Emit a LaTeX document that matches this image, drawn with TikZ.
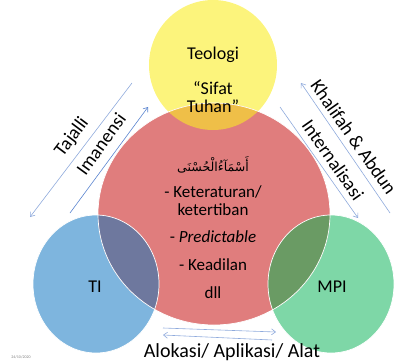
\documentclass[tikz,border=0pt]{standalone}
\usepackage{fontspec}
\setmainfont{Carlito}
\newfontfamily\arabicfont[Script=Arabic]{DejaVu Sans}
\TeXXeTstate=1
\usetikzlibrary{arrows.meta}

\definecolor{cYellow}{HTML}{FCF47C}
\definecolor{cRed}{HTML}{E07D7D}
\definecolor{cBlue}{HTML}{7EB5DE}
\definecolor{cGreen}{HTML}{7ED7A7}
\definecolor{cYR}{HTML}{EFBF48}
\definecolor{cBR}{HTML}{6E789E}
\definecolor{cGR}{HTML}{6A9B64}
\definecolor{cLine}{HTML}{8FAADC}
\definecolor{cLineDark}{HTML}{5A84CF}

\tikzset{
  lbl/.style={font=\fontsize{17}{19}\selectfont, inner sep=0pt},
  big/.style={font=\fontsize{18}{20}\selectfont, inner sep=0pt},
  diag/.style={font=\fontsize{19}{21}\selectfont, inner sep=0pt},
  arr/.style={draw=cLine, line width=0.6pt, -{Straight Barb[length=4pt,width=6pt]}},
  rim/.style={draw=white, line width=0.7pt},
}

\begin{document}
\begin{tikzpicture}[x=1pt,y=1pt]
\useasboundingbox (0,0) rectangle (398,362);

% circles
\fill[cYellow] (213,297) ellipse [x radius=64pt, y radius=65pt];
\fill[cBlue] (96,78) ellipse [x radius=63pt, y radius=69pt];
\fill[cGreen] (331,78) ellipse [x radius=63pt, y radius=69pt];
\fill[cRed] (214,148) ellipse [x radius=116pt, y radius=111pt];

% overlaps
\begin{scope}
  \clip (214,148) ellipse [x radius=116pt, y radius=111pt];
  \fill[cYR] (213,297) ellipse [x radius=64pt, y radius=65pt];
  \fill[cBR] (96,78) ellipse [x radius=63pt, y radius=69pt];
  \fill[cGR] (331,78) ellipse [x radius=63pt, y radius=69pt];
\end{scope}

% white rims
\draw[rim] (96,78) ellipse [x radius=63pt, y radius=69pt];
\draw[rim] (331,78) ellipse [x radius=63pt, y radius=69pt];
\draw[rim] (214,148) ellipse [x radius=116pt, y radius=111pt];

% labels
\node[big] (teo) at (213,307) {Teologi};
\node[big] (sif) at (213,274) {“Sifat};
\node[big] (tuh) at (213,256) {Tuhan”};

\node[inner sep=0pt, font=\fontsize{12.5}{14}\selectfont] (asma) at (213,197) {\arabicfont\beginR أَسْمَآءُالْحُسْنَى\endR};
\node[lbl] (k1) at (213,170) {- Keteraturan/};
\node[lbl] (k2) at (213,152) {ketertiban};
\node[lbl] (pr) at (213,125) {- \textit{Predictable}};
\node[lbl] (ke) at (213,97) {- Keadilan};
\node[lbl] (dl) at (213,69) {dll};

\node[big] (ti) at (95,75) {TI};
\node[big] (mpi) at (332,75) {MPI};

\node[lbl, font=\fontsize{20}{22}\selectfont] (alo) at (232,10) {Alokasi/ Aplikasi/ Alat};
\node[inner sep=0pt, text=gray, font=\fontsize{4}{5}\selectfont] (dt) at (21,5) {24/10/2020};

% diagonal captions
\node[diag, rotate=53] (taj) at (72,225) {Tajalli};
\node[diag, rotate=54] (ima) at (101,218) {Imanensi};
\node[diag, rotate=-55, anchor=west] (kha) at (315,280) {Khalifah \& Abdun};
\node[diag, rotate=-55] (int) at (333,202) {Internalisasi};

% connector end points
\coordinate (tjA) at (132,279);
\coordinate (tjB) at (30,145);
\coordinate (imA) at (70,149);
\coordinate (imB) at (148,255);
\coordinate (khA) at (390,149);
\coordinate (khB) at (301,279);
\coordinate (inA) at (280,255);
\coordinate (inB) at (358,144);
\coordinate (b1A) at (163,34);
\coordinate (b1B) at (276,30);
\coordinate (b2A) at (272,22);
\coordinate (b2B) at (163,27);

\draw[arr] (tjA) -- (tjB);
\draw[arr, draw=cLineDark] (imA) -- (imB);
\draw[arr] (khA) -- (khB);
\draw[arr] (inA) -- (inB);
\draw[arr] (b1A) -- (b1B);
\draw[arr] (b2A) -- (b2B);
\end{tikzpicture}
\end{document}
